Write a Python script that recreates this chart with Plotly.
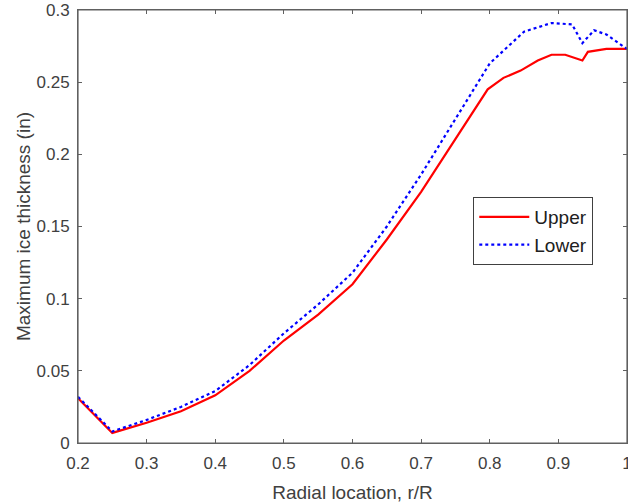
import plotly.graph_objects as go

r_upper = [0.2, 0.25, 0.3, 0.35, 0.4, 0.45, 0.5, 0.55, 0.6, 0.65, 0.7, 0.75, 0.797, 0.82, 0.845, 0.87, 0.89, 0.91, 0.935, 0.943, 0.97, 1.0]
upper = [0.031, 0.007, 0.014, 0.022, 0.033, 0.050, 0.071, 0.089, 0.110, 0.141, 0.174, 0.211, 0.245, 0.253, 0.258, 0.265, 0.269, 0.269, 0.265, 0.271, 0.273, 0.273]

r_lower = [0.2, 0.25, 0.3, 0.35, 0.4, 0.45, 0.5, 0.55, 0.6, 0.65, 0.7, 0.75, 0.8, 0.85, 0.89, 0.92, 0.935, 0.952, 0.97, 1.0]
lower = [0.032, 0.008, 0.016, 0.025, 0.036, 0.054, 0.076, 0.096, 0.118, 0.150, 0.186, 0.225, 0.263, 0.285, 0.291, 0.290, 0.277, 0.286, 0.283, 0.273]

x_ticks = [0.2, 0.3, 0.4, 0.5, 0.6, 0.7, 0.8, 0.9, 1.0]
x_labels = ["0.2", "0.3", "0.4", "0.5", "0.6", "0.7", "0.8", "0.9", "1"]
y_ticks = [0, 0.05, 0.1, 0.15, 0.2, 0.25, 0.3]
y_labels = ["0", "0.05", "0.1", "0.15", "0.2", "0.25", "0.3"]

FONT = "Liberation Sans, Arial, sans-serif"
TXT = "#404040"
LINE = "#606060"

fig = go.Figure()
fig.add_trace(go.Scatter(x=r_upper, y=upper, mode="lines", name="Upper",
                         line=dict(color="#ff0000", width=2.2)))
fig.add_trace(go.Scatter(x=r_lower, y=lower, mode="lines", name="Lower",
                         line=dict(color="#0000ff", width=2.2, dash="dot")))

axis_common = dict(showgrid=False, zeroline=False, showline=True, linecolor=LINE,
                   linewidth=1, ticks="inside", ticklen=4, automargin=False,
                   ticklabeloverflow="allow",
                   tickcolor=LINE, tickfont=dict(family=FONT, size=17, color=TXT))

fig.update_layout(
    xaxis=dict(range=[0.2, 1.0], tickvals=x_ticks, ticktext=x_labels, ticklabelstandoff=5,
               title=dict(text="Radial location, r/R", font=dict(family=FONT, size=19, color=TXT), standoff=16),
               **axis_common),
    yaxis=dict(range=[0, 0.3], tickvals=y_ticks, ticktext=y_labels, ticklabelstandoff=4,
               title=dict(text="Maximum ice thickness (in)", font=dict(family=FONT, size=19, color=TXT), standoff=0),
               **axis_common),
    xaxis2=dict(overlaying="x", side="top", range=[0.2, 1.0], tickvals=x_ticks,
                showticklabels=False, showgrid=False, zeroline=False, showline=True,
                linecolor=LINE, linewidth=1, ticks="inside", ticklen=4, tickcolor=LINE),
    yaxis2=dict(overlaying="y", side="right", range=[0, 0.3], tickvals=y_ticks,
                showticklabels=False, showgrid=False, zeroline=False, showline=True,
                linecolor=LINE, linewidth=1, ticks="inside", ticklen=4, tickcolor=LINE),
    width=628, height=503,
    margin=dict(l=78, r=1, t=10, b=60),
    paper_bgcolor="white", plot_bgcolor="white",
    font=dict(family=FONT, size=17, color=TXT),
    legend=dict(x=0.72, y=0.568, xanchor="left", yanchor="top", itemwidth=50,
                bordercolor="#404040", borderwidth=1, bgcolor="white",
                font=dict(family=FONT, size=19, color="#202020")),
    shapes=[dict(type="rect", xref="paper", yref="paper", x0=0, x1=1, y0=0, y1=1,
                 line=dict(color=LINE, width=1.2), fillcolor="rgba(0,0,0,0)", layer="above")],
)
# invisible helper trace so the top/right frame axes are drawn
fig.add_trace(go.Scatter(x=[r_upper[0]], y=[upper[0]], xaxis="x2", yaxis="y2",
                         mode="markers", marker=dict(opacity=0), showlegend=False,
                         hoverinfo="skip"))

fig.write_html("out.html", config={"displayModeBar": False},
               post_script="document.body.style.margin='0';document.body.style.overflow='hidden';")
